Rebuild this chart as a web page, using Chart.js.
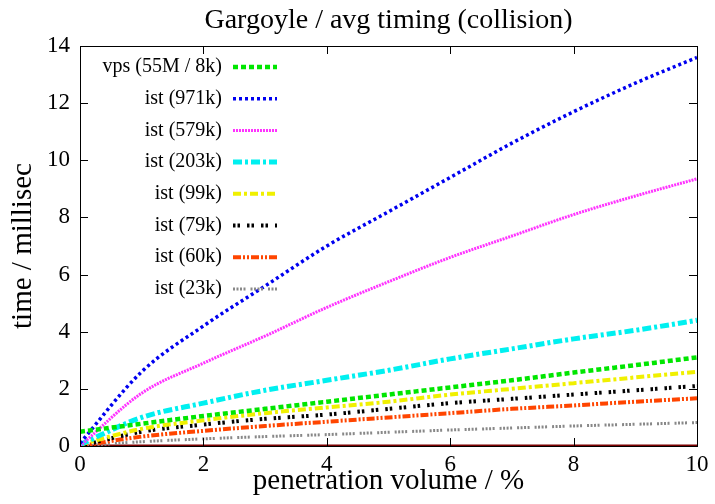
<!DOCTYPE html>
<html>
<head>
<meta charset="utf-8">
<script src="https://cdn.jsdelivr.net/npm/chart.js@4.4.1/dist/chart.umd.min.js"></script>
<style>
  html, body { margin: 0; padding: 0; background: #fff; }
  #wrap { width: 715px; height: 504px; }
</style>
</head>
<body>
<div id="wrap"><canvas id="chart"></canvas></div>
<script>
// penetration volume (%) sample points
const volume = [0, 1, 2, 3, 4, 5, 6, 7, 8, 9, 10];

// avg timing in millisec
const vps55M  = [0.5, 0.78, 1.05, 1.3, 1.55, 1.8, 2.05, 2.3, 2.57, 2.83, 3.1];
const ist971k = [0.1, 2.6, 4.2, 5.6, 7.0, 8.2, 9.4, 10.6, 11.7, 12.7, 13.6];
const ist579k = [0.0, 1.85, 2.9, 3.85, 4.85, 5.75, 6.6, 7.35, 8.1, 8.75, 9.35];
const ist203k = [0.05, 1.0, 1.5, 1.95, 2.3, 2.65, 3.05, 3.4, 3.75, 4.05, 4.4];
const ist99k  = [0.05, 0.6, 0.9, 1.15, 1.35, 1.55, 1.8, 2.0, 2.2, 2.4, 2.6];
const ist79k  = [0.0, 0.5, 0.75, 0.95, 1.1, 1.3, 1.5, 1.65, 1.8, 1.95, 2.1];
const ist60k  = [0.0, 0.33, 0.53, 0.7, 0.85, 1.0, 1.15, 1.3, 1.42, 1.55, 1.67];
const ist23k  = [0.0, 0.15, 0.25, 0.33, 0.4, 0.48, 0.56, 0.63, 0.7, 0.76, 0.82];
const baseline = [0, 0, 0, 0, 0, 0, 0, 0, 0, 0, 0];

const xTicks = [0, 2, 4, 6, 8, 10];
const yTicks = [0, 2, 4, 6, 8, 10, 12, 14];

const chartTitle = "Gargoyle / avg timing (collision)";
const serif = "'Liberation Serif', 'DejaVu Serif', serif";

function pts(ys) {
  return volume.map((x, i) => ({ x: x, y: ys[i] }));
}

function series(label, ys, color, dash, width) {
  return {
    label: label,
    data: pts(ys),
    borderColor: color,
    backgroundColor: color,
    borderDash: dash,
    borderWidth: width,
    borderCapStyle: "butt",
    pointRadius: 0,
    fill: false,
    cubicInterpolationMode: "monotone"
  };
}

const datasets = [
  series("vps (55M / 8k)", vps55M, "#00e600", [5, 3], 4.5),
  series("ist (971k)", ist971k, "#0000f0", [3, 3], 3.5),
  series("ist (579k)", ist579k, "#ff33ff", [2, 1], 3),
  series("ist (203k)", ist203k, "#00f0f0", [9, 3, 3, 3], 5),
  series("ist (99k)", ist99k, "#f0f000", [8, 3, 3, 3], 4),
  series("ist (79k)", ist79k, "#000000", [2.5, 2, 2.5, 7], 4),
  series("ist (60k)", ist60k, "#ff4500", [8, 2, 2, 2, 2, 2], 4),
  series("ist (23k)", ist23k, "#888888", [2, 1.5, 2, 1.5, 2, 1.5, 2, 5], 3),
  Object.assign(series("", baseline, "#7a0000", [], 3), { noLegend: true })
];

// frame with inward ticks on all four sides, gnuplot style; title centred on the plot
const framePlugin = {
  id: "frame",
  afterDraw(chart) {
    const ctx = chart.ctx;
    const a = chart.chartArea;
    const xs = chart.scales.x, ys = chart.scales.y;
    ctx.save();
    ctx.strokeStyle = "#000";
    ctx.lineWidth = 1;
    ctx.beginPath();
    xTicks.forEach(v => {
      const px = Math.round(xs.getPixelForValue(v)) + 0.5;
      ctx.moveTo(px, a.bottom); ctx.lineTo(px, a.bottom - 8);
      ctx.moveTo(px, a.top); ctx.lineTo(px, a.top + 8);
    });
    yTicks.forEach(v => {
      const py = Math.round(ys.getPixelForValue(v)) + 0.5;
      ctx.moveTo(a.left, py); ctx.lineTo(a.left + 8, py);
      ctx.moveTo(a.right, py); ctx.lineTo(a.right - 8, py);
    });
    ctx.stroke();
    ctx.strokeRect(Math.round(a.left) + 0.5, Math.round(a.top) + 0.5,
      Math.round(a.right - a.left), Math.round(a.bottom - a.top));

    ctx.fillStyle = "#000";
    ctx.font = "28px " + serif;
    ctx.textAlign = "center";
    ctx.textBaseline = "alphabetic";
    ctx.fillText(chartTitle, (a.left + a.right) / 2, 28);
    ctx.restore();
  }
};

// key inside the plot: label right-aligned, sample to the right
const keyPlugin = {
  id: "key",
  afterDatasetsDraw(chart) {
    const ctx = chart.ctx;
    const a = chart.chartArea;
    ctx.save();
    ctx.font = "20px " + serif;
    ctx.textAlign = "right";
    ctx.textBaseline = "middle";
    let row = 0;
    chart.data.datasets.forEach(ds => {
      if (ds.noLegend) return;
      const y = a.top + 21 + row * 31.7;
      ctx.fillStyle = "#000";
      ctx.fillText(ds.label, a.left + 142, y);
      ctx.strokeStyle = ds.borderColor;
      ctx.lineWidth = ds.borderWidth;
      ctx.setLineDash(ds.borderDash);
      ctx.beginPath();
      ctx.moveTo(a.left + 153, y);
      ctx.lineTo(a.left + 197, y);
      ctx.stroke();
      row++;
    });
    ctx.restore();
  }
};

new Chart(document.getElementById("chart"), {
  type: "line",
  data: { datasets },
  plugins: [framePlugin, keyPlugin],
  options: {
    responsive: true,
    maintainAspectRatio: false,
    animation: false,
    layout: { padding: { left: 0, right: 18, top: 46, bottom: 0 } },
    plugins: {
      legend: { display: false },
      tooltip: { enabled: false },
      title: { display: false }
    },
    scales: {
      x: {
        type: "linear",
        min: 0,
        max: 10,
        afterFit: s => { s.height = 58; },
        afterBuildTicks: s => { s.ticks = xTicks.map(v => ({ value: v })); },
        grid: { display: false, drawTicks: false },
        border: { display: false },
        ticks: { color: "#000", padding: 5, font: { family: serif, size: 23 } },
        title: {
          display: true,
          text: "penetration volume / %",
          color: "#000",
          font: { family: serif, size: 29 },
          padding: { top: 0, bottom: 5 }
        }
      },
      y: {
        min: 0,
        max: 14,
        afterFit: s => { s.width = 80; },
        afterBuildTicks: s => { s.ticks = yTicks.map(v => ({ value: v })); },
        grid: { display: false, drawTicks: false },
        border: { display: false },
        ticks: { color: "#000", padding: 10, font: { family: serif, size: 23 } },
        title: {
          display: true,
          text: "time / millisec",
          color: "#000",
          font: { family: serif, size: 29 },
          padding: { top: 6, bottom: 0 }
        }
      }
    }
  }
});
</script>
</body>
</html>
